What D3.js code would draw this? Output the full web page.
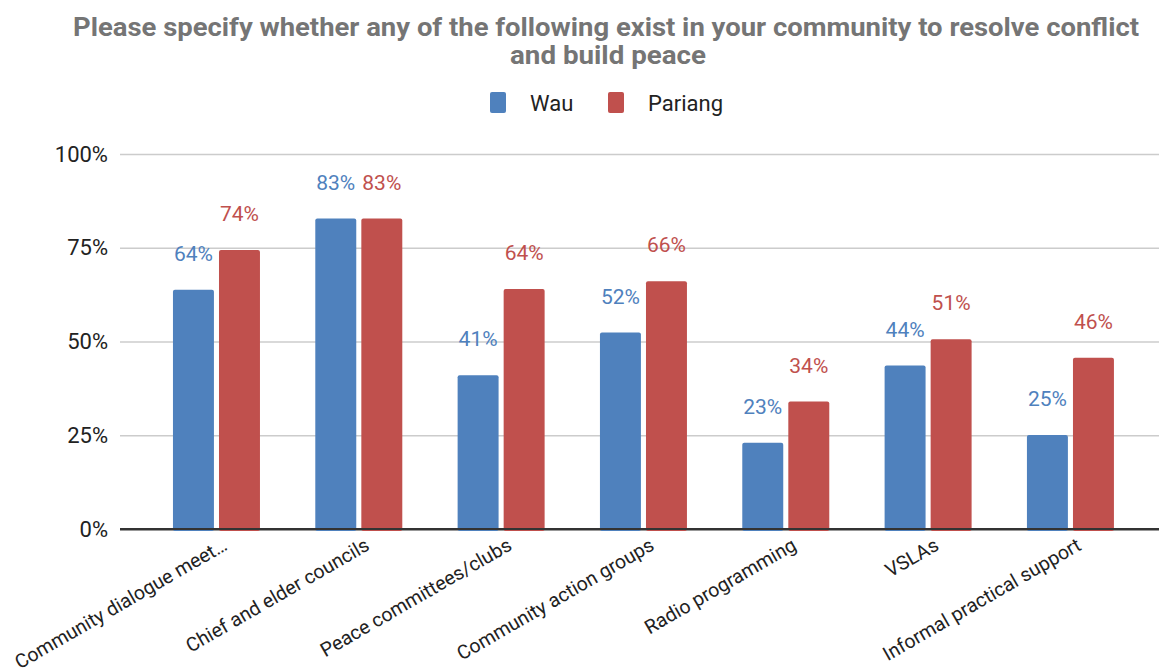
<!DOCTYPE html>
<html>
<head>
<meta charset="utf-8">
<script src="https://cdn.jsdelivr.net/npm/d3@7"></script>
<style>
  body { margin: 0; background: #fff; }
  text { font-family: Roboto, "Liberation Sans", Arial, sans-serif; }
</style>
</head>
<body>
<svg id="main-svg"></svg>
<script>
let categories = [
  'Community dialogue meet…',
  'Chief and elder councils',
  'Peace committees/clubs',
  'Community action groups',
  'Radio programming',
  'VSLAs',
  'Informal practical support'
];
let series = ['Wau', 'Pariang'];
let wauValues = [0.638, 0.828, 0.41, 0.524, 0.23, 0.436, 0.251];
let pariangValues = [0.744, 0.828, 0.64, 0.661, 0.34, 0.506, 0.457];
let yTicks = [0, 0.25, 0.5, 0.75, 1];
let colors = ['#4f81bd', '#c0504d'];

let width = 1159;
let height = 671;

let svg = d3.select('#main-svg')
  .attr('width', width)
  .attr('height', height);

// title
let title = svg.append('text')
  .attr('text-anchor', 'middle')
  .style('font-size', '26px')
  .style('font-weight', 'bold')
  .style('fill', '#757575');
title.append('tspan').attr('x', 606).attr('y', 36)
  .attr('textLength', 1066).attr('lengthAdjust', 'spacingAndGlyphs')
  .text('Please specify whether any of the following exist in your community to resolve conflict');
title.append('tspan').attr('x', 608).attr('y', 64)
  .attr('textLength', 196).attr('lengthAdjust', 'spacingAndGlyphs')
  .text('and build peace');

// legend
let legendX = [490, 608];
series.forEach((s, i) => {
  svg.append('rect')
    .attr('x', legendX[i]).attr('y', 92)
    .attr('width', 16).attr('height', 21)
    .attr('rx', 2)
    .style('fill', colors[i]);
  svg.append('text')
    .attr('x', legendX[i] + 40).attr('y', 111)
    .style('font-size', '22px')
    .style('fill', '#222')
    .text(s);
});

let y = d3.scaleLinear().domain([0, 1]).range([529, 154]);

let x0 = d3.scaleBand().domain(categories).range([145.3, 1141.6]);
let step = x0.step();
let x1 = d3.scaleBand().domain(series)
  .range([step / 2 - 43.5, step / 2 + 43.5])
  .paddingInner(0.11);

// grid + y labels
let yAxis = svg.append('g')
  .attr('transform', 'translate(120,0)')
  .call(d3.axisLeft(y).tickValues(yTicks).tickFormat(d3.format('.0%')).tickSize(-(width - 120)));
yAxis.select('.domain').remove();
yAxis.selectAll('.tick line')
  .style('stroke', d => d === 0 ? '#333' : '#ccc')
  .style('stroke-width', d => d === 0 ? 2 : 1.3);
yAxis.selectAll('.tick text')
  .attr('x', -12)
  .style('font-size', '22px')
  .style('fill', '#222')
  .style('font-family', 'Roboto, sans-serif');

let data = categories.map((c, i) => ({ cat: c, vals: [wauValues[i], pariangValues[i]] }));

let groups = svg.selectAll('g.group')
  .data(data)
  .enter().append('g')
    .attr('class', 'group')
    .attr('transform', d => `translate(${x0(d.cat)},0)`);

groups.selectAll('rect')
  .data(d => d.vals.map((v, i) => ({ s: series[i], v: v, i: i })))
  .enter().append('rect')
    .attr('x', d => x1(d.s))
    .attr('y', d => y(d.v))
    .attr('width', x1.bandwidth())
    .attr('height', d => y(0) - y(d.v) + 2)
    .attr('rx', 2)
    .style('fill', d => colors[d.i]);

groups.selectAll('text.val')
  .data(d => d.vals.map((v, i) => ({ s: series[i], v: v, i: i })))
  .enter().append('text')
    .attr('class', 'val')
    .attr('x', d => x1(d.s) + x1.bandwidth() / 2)
    .attr('y', d => y(d.v) - 29)
    .attr('text-anchor', 'middle')
    .style('font-size', '21px')
    .style('fill', d => colors[d.i])
    .text(d => d3.format('.0%')(d.v));

// redraw baseline on top of bars
svg.append('line')
  .attr('x1', 120).attr('x2', width)
  .attr('y1', y(0)).attr('y2', y(0))
  .style('stroke', '#333').style('stroke-width', 2);

// category labels
svg.selectAll('text.cat')
  .data(categories)
  .enter().append('text')
    .attr('class', 'cat')
    .attr('text-anchor', 'end')
    .attr('transform', d => `translate(${x0(d) + step / 2 + 12},${549}) rotate(-30)`)
    .style('font-size', '19.5px')
    .style('fill', '#222')
    .text(d => d);
</script>
</body>
</html>
